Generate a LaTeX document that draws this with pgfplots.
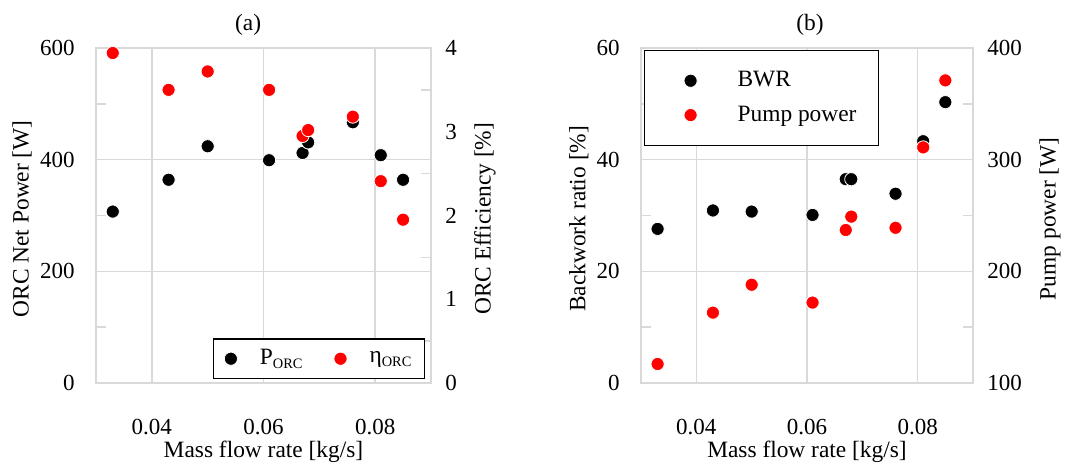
\documentclass[border=0pt]{standalone}
\usepackage{fontspec}
\setmainfont{Liberation Serif}
\usepackage{pgfplots}
\pgfplotsset{compat=1.18}
\definecolor{gridgray}{HTML}{D9D9D9}
\definecolor{myred}{HTML}{FF0000}
\def\legw{16.5pt}\def\legm{4pt}
\newcommand{\sub}[1]{\raisebox{-0.35ex}{\fontsize{7.2}{8}\selectfont #1}}
\pgfplotsset{
  mk/.style={only marks, mark=*, mark size=3.3pt,
    legend image code/.code={\path[draw=none] (0pt,0pt) (\legw,0pt); \draw[##1, /tikz/only marks] plot coordinates {(\legm,0pt)};}},
  blk/.style={mk, mark options={fill=black, draw=white, line width=0.4pt}},
  rd/.style={mk, mark options={fill=myred, draw=white, line width=0.4pt}},
  base/.style={
    anchor=south west, scale only axis, width=167.5pt, height=167.5pt,
    xmin=0.03, xmax=0.09, scaled x ticks=false,
    /pgf/number format/assume math mode=true,
    axis line style={gridgray, line width=0.8pt},
    tick style={gridgray, line width=0.8pt},
    major tick length=0pt, minor tick length=5pt, tick align=inside,
    yticklabel style={font=\fontsize{11.5}{13}\selectfont},
    xticklabel style={font=\fontsize{11.5}{13}\selectfont},
    label style={font=\fontsize{11.7}{14}\selectfont},
    title style={font=\fontsize{11.7}{14}\selectfont},
  },
  leftax/.style={base,
    xtick={0.04,0.06,0.08}, xticklabels={0.04,0.06,0.08},
    xtick pos=bottom, ytick pos=left,
    grid=major, major grid style={gridgray, line width=0.8pt},
    xticklabel style={anchor=center, yshift=-22pt},
    yticklabel style={anchor=east, inner sep=0pt, xshift=-10.5pt},
    xlabel={Mass flow rate [kg/s]},
    xlabel style={at={(axis description cs:0.5,-0.205)}, anchor=center},
  },
  rightax/.style={base,
    axis y line*=right, axis x line=none, xtick=\empty,
    yticklabel style={anchor=west, inner sep=0pt, xshift=7pt},
  },
}
\begin{document}
\begin{tikzpicture}
\path[use as bounding box] (0,0) rectangle (542.5pt,235pt);
% ---------- panel (a) ----------
\begin{axis}[leftax, at={(48pt,43.5pt)},
  ymin=0, ymax=600, ytick={0,200,400,600}, minor ytick={100,300,500},
  ylabel={ORC Net Power [W]},
  ylabel style={at={(axis description cs:-0.221,0.49)}, anchor=center},
  title={(a)}, title style={at={(axis description cs:0.454,1.032)}, anchor=center},
]
\addplot[blk] coordinates {
(0.033,307) (0.043,364) (0.050,424) (0.061,399) (0.067,412)
(0.068,431) (0.076,467) (0.081,408) (0.085,364)};
\end{axis}
\begin{axis}[rightax, at={(48pt,43.5pt)},
  ymin=0, ymax=4, ytick={0,1,2,3,4}, minor ytick={0.5,1.5,2.5,3.5},
  ylabel={ORC Efficiency [\%]},
  ylabel style={at={(axis description cs:1.161,0.49)}, anchor=center},
  legend columns=2, legend cell align=left,
  legend style={at={(axis description cs:0.982,0.012)}, anchor=south east,
    draw=black, line width=0.6pt, fill=white, inner xsep=4.5pt, inner ysep=3.25pt,
    font=\fontsize{11.7}{14}\selectfont,
    nodes={inner sep=2pt},
    /tikz/every even column/.append style={column sep=13pt}},
]
\addlegendimage{blk}
\addlegendentry{P\sub{ORC}}
\addplot[rd] coordinates {
(0.033,3.94) (0.043,3.50) (0.050,3.72) (0.061,3.50) (0.067,2.95)
(0.068,3.02) (0.076,3.18) (0.081,2.41) (0.085,1.95)};
\addlegendentry{η\sub{ORC}}
\end{axis}
% ---------- panel (b) ----------
\def\legw{35.5pt}\def\legm{14pt}
\begin{axis}[leftax, at={(320.5pt,43.5pt)}, width=166pt,
  ymin=0, ymax=60, ytick={0,20,40,60}, minor ytick={10,30,50},
  ylabel={Backwork ratio [\%]},
  ylabel style={at={(axis description cs:-0.187,0.49)}, anchor=center},
  title={(b)}, title style={at={(axis description cs:0.509,1.032)}, anchor=center},
]
\addplot[blk] coordinates {
(0.033,27.6) (0.043,30.9) (0.050,30.7) (0.061,30.1) (0.067,36.5)
(0.068,36.5) (0.076,33.9) (0.081,43.3) (0.085,50.3)};
\end{axis}
\begin{axis}[rightax, at={(320.5pt,43.5pt)}, width=166pt,
  ymin=100, ymax=400, ytick={100,200,300,400}, minor ytick={150,250,350},
  ylabel={Pump power [W]},
  ylabel style={at={(axis description cs:1.232,0.49)}, anchor=center},
  legend cell align=left,
  legend style={at={(axis description cs:0.009,0.994)}, anchor=north west,
    draw=black, line width=0.6pt, fill=white, inner xsep=9pt, inner ysep=8.5pt,
    font=\fontsize{11.7}{14}\selectfont, row sep=4pt,
    nodes={inner sep=2pt}},
]
\addlegendimage{blk}
\addlegendentry{BWR}
\addplot[rd] coordinates {
(0.033,117) (0.043,163) (0.050,188) (0.061,172) (0.067,237)
(0.068,249) (0.076,239) (0.081,311) (0.085,371)};
\addlegendentry{Pump power}
\end{axis}
\end{tikzpicture}
\end{document}
